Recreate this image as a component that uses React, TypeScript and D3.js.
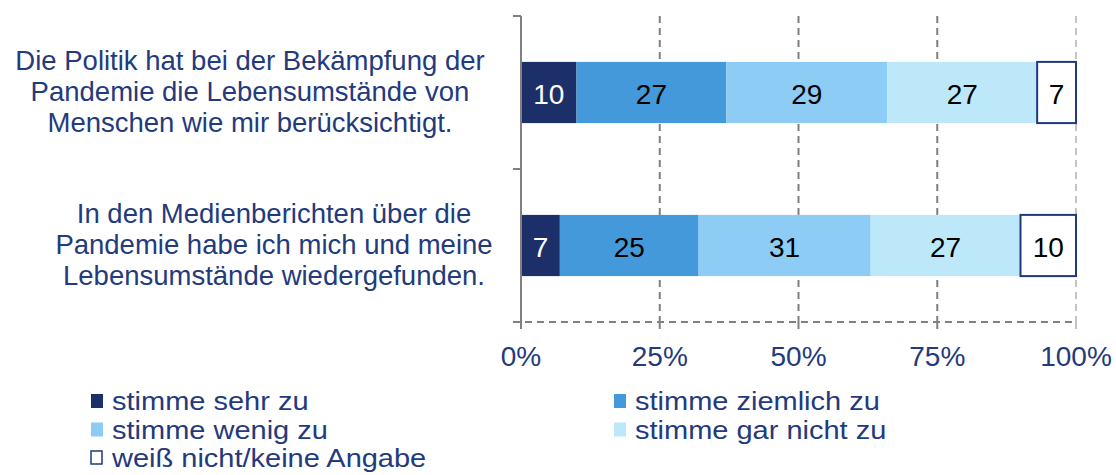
import React from "react";
import * as d3 from "d3";

const categories = [
  ["Die Politik hat bei der Bekämpfung der", "Pandemie die Lebensumstände von", "Menschen wie mir berücksichtigt."],
  ["In den Medienberichten über die", "Pandemie habe ich mich und meine", "Lebensumstände wiedergefunden."],
];
const seriesNames = ["stimme sehr zu", "stimme ziemlich zu", "stimme wenig zu", "stimme gar nicht zu", "weiß nicht/keine Angabe"];
const seriesValues = [
  [10, 27, 29, 27, 7],
  [7, 25, 31, 27, 10],
];
const ticks = [0, 25, 50, 75, 100];

const colors = ["#1c2f69", "#4499da", "#8dcdf5", "#bde8fa", "#ffffff"];
const navy = "#233a7c";

const App: React.FC = () => {
  const width = 1116;
  const height = 475;
  const top = 16;
  const bottom = 322;

  const x = d3.scaleLinear().domain([0, 100]).range([521, 1076]);
  const y = d3
    .scaleBand()
    .domain(categories.map((_, i) => String(i)))
    .range([top, bottom])
    .paddingInner(0.6)
    .paddingOuter(0.3);

  const bandEdges = [top, (top + bottom) / 2, bottom];
  const centerX = [250, 274];

  const stacked = seriesValues.map((vals) => {
    let acc = 0;
    return vals.map((v) => {
      const s = acc;
      acc += v;
      return { start: s, end: acc, v };
    });
  });

  return (
    <svg width={width} height={height} style={{ display: "block", position: "absolute", left: 0, top: 0 }} fontFamily="'Liberation Sans', Arial, sans-serif">
      {/* gridlines */}
      {ticks.slice(1).map((t) => (
        <line key={t} x1={x(t)} x2={x(t)} y1={top} y2={bottom} stroke={t === 100 ? "#c4c4c4" : "#808080"} strokeWidth={2} strokeDasharray="7,5" />
      ))}
      {/* bottom axis */}
      <line x1={x(0) - 8} x2={x(100)} y1={bottom} y2={bottom} stroke="#808080" strokeWidth={2} strokeDasharray="7,5" />
      {ticks.map((t) => (
        <line key={"bt" + t} x1={x(t)} x2={x(t)} y1={bottom} y2={bottom + 7} stroke={t === 100 ? "#c4c4c4" : "#808080"} strokeWidth={2} />
      ))}
      {ticks.map((t) => (
        <text key={"tl" + t} x={x(t)} y={366} textAnchor="middle" fontSize={28} fill={navy}>
          {t}%
        </text>
      ))}
      {/* bars */}
      {stacked.map((row, i) => {
        const y0 = y(String(i))!;
        const h = y.bandwidth();
        return (
          <g key={i}>
            {row.map((d, j) => (
              <rect
                key={j}
                x={x(d.start)}
                y={y0}
                width={x(d.end) - x(d.start)}
                height={h}
                fill={colors[j]}
                stroke={j === 4 ? "#1f3a7a" : "none"}
                strokeWidth={j === 4 ? 2 : 0}
              />
            ))}
            {row.map((d, j) => (
              <text key={"l" + j} x={(x(d.start) + x(d.end)) / 2} y={y0 + h / 2 + 11} textAnchor="middle" fontSize={28} fill={j === 0 ? "#ffffff" : "#000000"}>
                {d.v}
              </text>
            ))}
            {categories[i].map((line, k) => (
              <text key={"c" + k} x={centerX[i]} y={y0 + h / 2 + 8 + (k - 1) * 31} textAnchor="middle" fontSize={27.5} fill={navy}>
                {line}
              </text>
            ))}
          </g>
        );
      })}
      {/* vertical axis */}
      <line x1={x(0)} x2={x(0)} y1={top} y2={bottom} stroke="#808080" strokeWidth={2} />
      {bandEdges.map((e, i) => (
        <line key={"yt" + i} x1={x(0) - 8} x2={x(0)} y1={e} y2={e} stroke="#808080" strokeWidth={2} />
      ))}
      {/* legend */}
      {seriesNames.map((name, i) => {
        const col = i === 4 ? 0 : i % 2;
        const row = Math.floor(i / 2);
        const lx = col === 0 ? 91 : 614;
        const base = 410 + row * 28.5;
        return (
          <g key={name}>
            <rect x={lx} y={base - 16} width={i === 4 ? 11 : 12} height={i === 4 ? 13 : 14} fill={colors[i]} stroke={i === 4 ? "#1f3a7a" : "none"} strokeWidth={i === 4 ? 1.5 : 0} />
            <text transform={`translate(${lx + 21},${base}) scale(1.16,1)`} fontSize={25} fill={navy}>
              {name}
            </text>
          </g>
        );
      })}
    </svg>
  );
};

export default App;
